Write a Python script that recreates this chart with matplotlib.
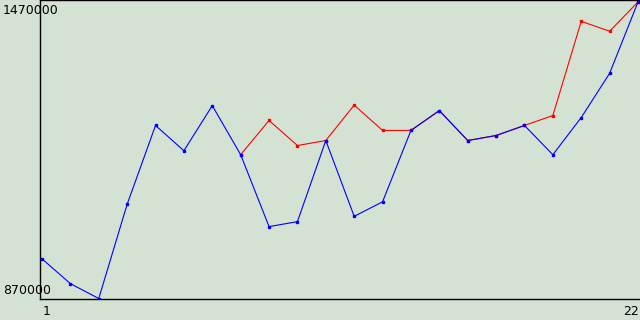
import numpy as np
import matplotlib
matplotlib.use("Agg")
import matplotlib.pyplot as plt

x = list(range(1, 23))
blue = [950000, 900000, 870000, 1060000, 1219000, 1168000, 1259000, 1160000,
        1015000, 1025000, 1188600, 1035700, 1065000, 1209000, 1249000, 1188600,
        1198700, 1219000, 1160000, 1235000, 1324000, 1468000]
red = [np.nan] * 7 + [1160000, 1229000, 1178500, 1188600, 1260000, 1209000, 1209000,
                      1249000, 1188600, 1198700, 1219000, 1239000, 1429000, 1409000, 1468000]
y_labels = ["1470000", "870000"]
x_labels = ["1", "22"]

bg = "#d4e2d4"
W, H = 640, 320
fig = plt.figure(figsize=(6.4, 3.2), dpi=100, facecolor=bg)
ax = fig.add_axes([40 / W, (H - 298.5) / H, 600 / W, 298.5 / H], facecolor=bg)

ax.plot(x, red, color="#ff0000", lw=0.8, marker="s", ms=1.8, mec="#ff0000", mfc="#ff0000", zorder=2)
ax.plot(x, blue, color="#0000ff", lw=0.8, marker="s", ms=1.8, mec="#0000ff", mfc="#0000ff", zorder=3)

dx = 2 * 21 / 596
ax.set_xlim(1 - dx, 22 + dx)
ax.set_ylim(870000, 1472000)
ax.set_xticks([])
ax.set_yticks([])
for s in ["left", "bottom", "top"]:
    ax.spines[s].set_color("black")
    ax.spines[s].set_linewidth(1.0)
ax.spines["right"].set_visible(False)

fs = 9
fig.text(3 / W, 1 - 4 / H, y_labels[0], ha="left", va="top", fontsize=fs, family="DejaVu Sans")
fig.text(3 / W, (H - 297) / H, y_labels[1], ha="left", va="bottom", fontsize=fs, family="DejaVu Sans")
fig.text(43 / W, (H - 305) / H, x_labels[0], ha="left", va="top", fontsize=fs, family="DejaVu Sans")
fig.text(639 / W, (H - 305) / H, x_labels[1], ha="right", va="top", fontsize=fs, family="DejaVu Sans")

fig.savefig("out.png", dpi=100, facecolor=bg)
